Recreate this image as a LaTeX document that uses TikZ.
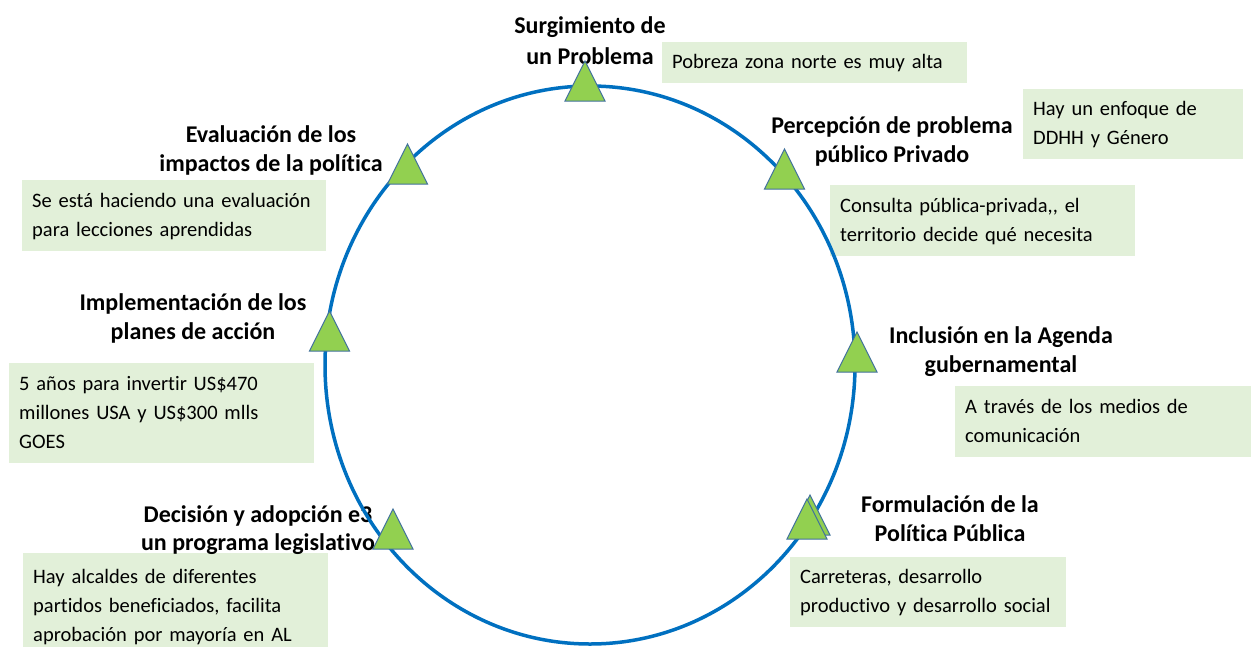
\documentclass[tikz,border=0pt]{standalone}
\usepackage{fontspec}
\setmainfont{Carlito}[Ligatures=NoCommon]
\definecolor{cblue}{HTML}{0070C0}
\definecolor{tgreen}{HTML}{92D050}
\definecolor{tedge}{HTML}{41719C}
\definecolor{bgreen}{HTML}{E2F0D9}
\newcommand\twoline[2]{\begin{tabular}[t]{@{}c@{}}#1\\#2\end{tabular}}
\newcommand\notetext[1]{\begin{tabular}{@{}l@{}}#1\end{tabular}}
\tikzset{
  lbl/.style={inner sep=0pt, anchor=base, font=\fontsize{24}{29.5}\selectfont\bfseries},
  note/.style={fill=bgreen, inner xsep=10pt, inner ysep=0pt, anchor=north west,
    font=\fontsize{20.5}{29}\selectfont, align=left, text width=#1},
  tri/.pic={\draw[fill=tgreen, draw=tedge, line width=1pt] (-20,0) -- (20,0) -- (0,-40) -- cycle;}
}
\begin{document}
\begin{tikzpicture}[x=1pt, y=-1pt]
\useasboundingbox (0,0) rectangle (1251,646);
% notes
\node[note=285pt, minimum height=41pt] (n1) at (662,42) {\notetext{Pobreza zona norte es muy alta}};
\node[note=200pt, minimum height=70pt] (n2) at (1023,89) {\notetext{Hay un enfoque de\\DDHH y Género}};
\node[note=285pt, minimum height=71pt] (n3) at (830,185) {\notetext{Consulta pública-privada,{}, el\\territorio decide qué necesita}};
\node[note=284pt, minimum height=71pt] (n4) at (22,180) {\notetext{Se está haciendo una evaluación\\para lecciones aprendidas}};
\node[note=285pt, minimum height=100pt] (n5) at (9,363) {\notetext{5 años para invertir US\$470\\millones USA y US\$300 mlls\\GOES}};
\node[note=280pt, minimum height=71pt] (n6) at (955,386) {\notetext{A través de los medios de\\comunicación}};
\node[note=285pt, minimum height=106pt] (n7) at (23,553) {\notetext{Hay alcaldes de diferentes\\partidos beneficiados, facilita\\aprobación por mayoría en AL}};
\node[note=256pt, minimum height=70pt] (n8) at (790,557) {\notetext{Carreteras, desarrollo\\productivo y desarrollo social}};
% labels
\node[lbl, font=\fontsize{24}{31}\selectfont\bfseries] (l1) at (590,33) {\twoline{Surgimiento de}{un Problema}};
\node[lbl] (l2) at (892,133) {\twoline{Percepción de problema}{público Privado}};
\node[lbl] (l3) at (271,142) {\twoline{Evaluación de los}{impactos de la política}};
\node[lbl] (l4) at (193,310) {\twoline{Implementación de los}{planes de acción}};
\node[lbl] (l5) at (1001,343) {\twoline{Inclusión en la Agenda}{gubernamental}};
\node[lbl, font=\fontsize{24}{28}\selectfont\bfseries] (l6) at (258,522) {\twoline{Decisión y adopción e3}{un programa legislativo}};
\node[lbl] (l7) at (950,512) {\twoline{Formulación de la}{Política Pública}};
% cycle
\draw[cblue, line width=3.5pt] (590,365) ellipse [x radius=265pt, y radius=279pt];
% triangles
\pic at (585,101) {tri};
\pic at (784.5,189) {tri};
\pic at (407.5,184) {tri};
\pic at (329.5,351) {tri};
\pic at (857,372) {tri};
\pic at (393,549) {tri};
\pic at (810,535) {tri};
\pic at (807,539) {tri};
\end{tikzpicture}
\end{document}
